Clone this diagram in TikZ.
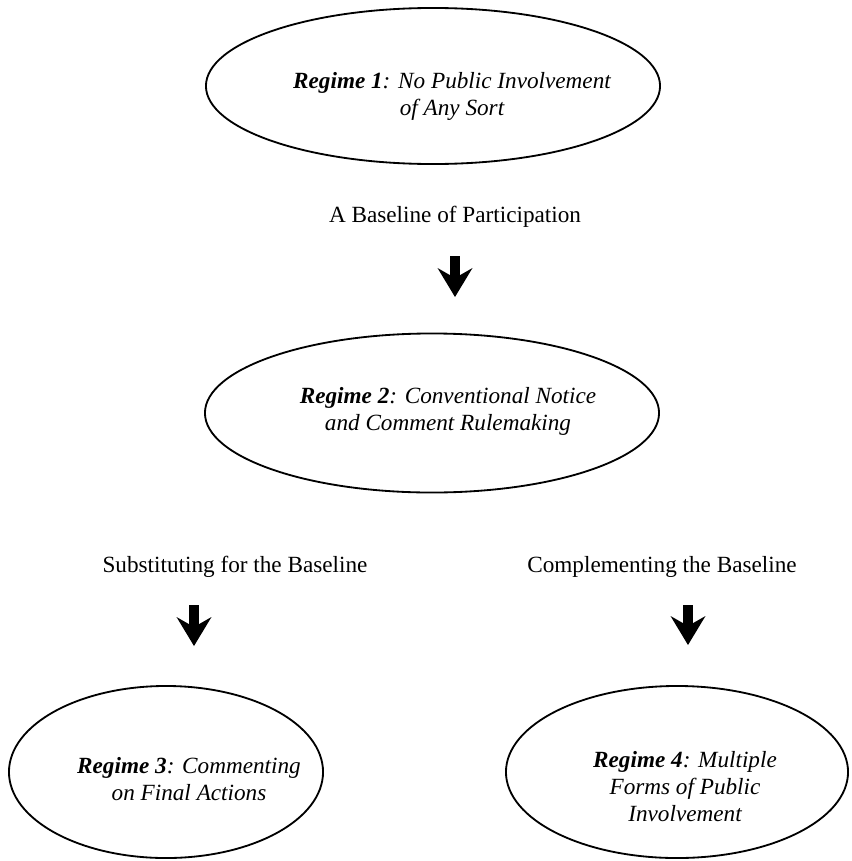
\documentclass[tikz,border=0pt]{standalone}
\usepackage{fontspec}
\setmainfont{Liberation Serif}
\usetikzlibrary{
  shapes.geometric, % Shape "ellipse"
  arrows.meta,
  positioning,
}
\newcommand{\regsize}{\fontsize{16.5}{19.2}\selectfont}
\newcommand{\rg}[1]{\textbf{Regime #1}}
\def\myawidth{0.25cm}
\tikzset{
  semithick,
  my regime/.style={
    draw,
    ellipse,
    line width=1.3pt,
    inner sep=0mm
  },
  my text/.style={
    align=center,
    font=\regsize\itshape,
    inner sep=0mm
  },
  my label/.style={
    font=\regsize,
    inner sep=0mm,
    anchor=base
  },
  my arrow/.style={
    line width=\myawidth,
    -{Stealth[length=0.725cm,width=0.875cm,inset=0.25cm,line width=0pt]}
  }
}

\begin{document}
\begin{tikzpicture}[x=0.025cm,y=-0.025cm]
\useasboundingbox (0,0) rectangle (852,861);
% Regime 1
\node[my regime,minimum width=11.35cm,minimum height=3.9cm] (r1) at (433,86) {};
\node[my text] (t1) at (452,96) {\rg1: No Public Involvement\\of Any Sort};
% Baseline
\node[my label] (base) at (455,222) {A Baseline of Participation};
\coordinate (a1) at (455,256);
\coordinate (b1) at (455,297);
\draw[my arrow] (a1) -- (b1);
% Regime 2
\node[my regime,minimum width=11.35cm,minimum height=3.975cm] (r2) at (432,413) {};
\node[my text] (t2) at (448,411) {\rg2: Conventional Notice\\and Comment Rulemaking};
% Substituting / complementing
\node[my label] (sub) at (235,572) {Substituting for the Baseline};
\node[my label] (comp) at (662,572) {Complementing the Baseline};
\coordinate (a2) at (194,605);
\coordinate (b2) at (194,646);
\draw[my arrow] (a2) -- (b2);
\coordinate (a3) at (688,605);
\coordinate (b3) at (688,645);
\draw[my arrow] (a3) -- (b3);
% Regime 3
\node[my regime,minimum width=7.85cm,minimum height=4.3cm] (r3) at (166,772) {};
\node[my text] (t3) at (189,779) {\rg3: Commenting\\on Final Actions};
% Regime 4
\node[my regime,minimum width=8.55cm,minimum height=4.3cm] (r4) at (677,772) {};
\node[my text] (t4) at (685,787) {\rg4: Multiple\\Forms of Public\\Involvement};
\end{tikzpicture}
\end{document}
